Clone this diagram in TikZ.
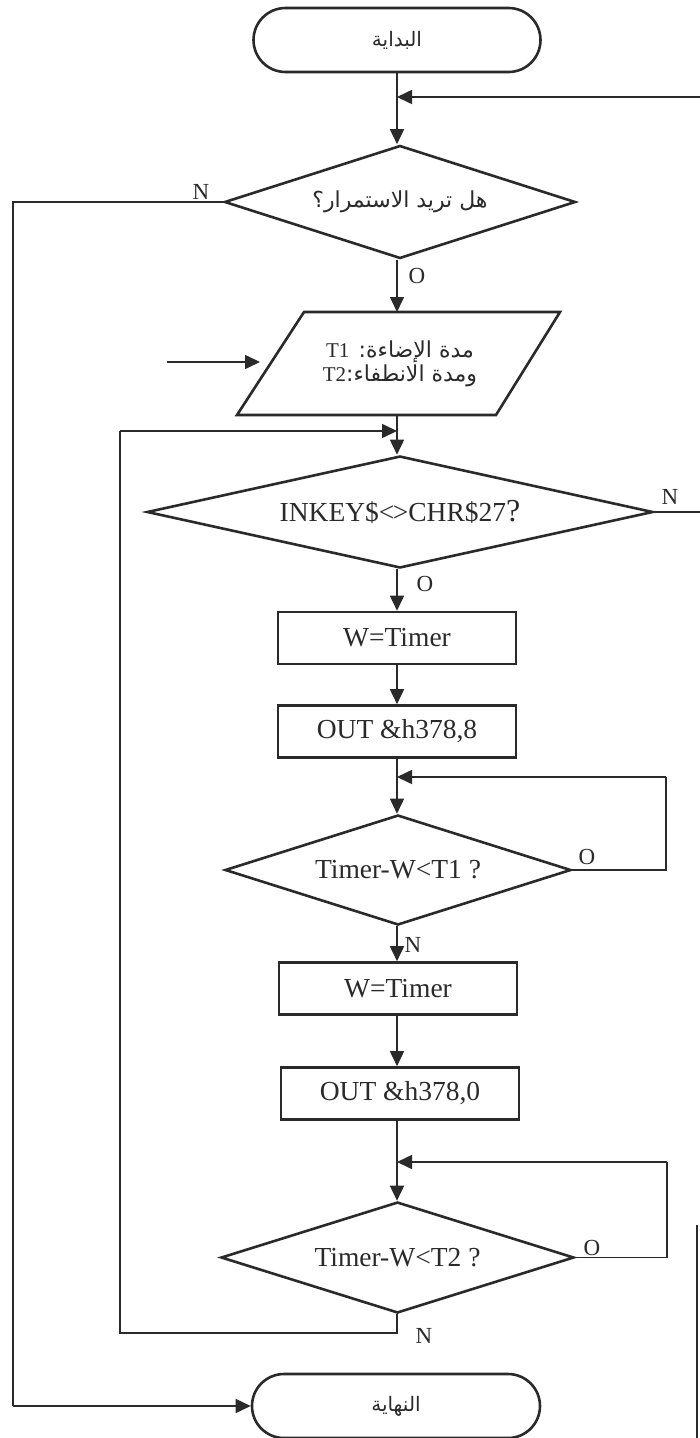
\documentclass[tikz,border=0pt]{standalone}
\usepackage{fontspec}
\setmainfont{Liberation Serif}
\newfontfamily\arabicfont[Script=Arabic]{DejaVu Sans}
\TeXXeTstate=1
\usetikzlibrary{shapes.geometric,shapes.misc,arrows.meta}
\definecolor{ink}{HTML}{2A2A2A}
\begin{document}
\begin{tikzpicture}[x=1pt,y=-1pt,
  shp/.style={draw=ink,line width=2.6pt,inner sep=0pt},
  term/.style={shp,rounded rectangle,minimum width=287pt,minimum height=64pt},
  dia/.style={shp,diamond},
  proc/.style={shp,rectangle,minimum width=238pt,minimum height=52pt},
  con/.style={draw=ink,line width=1.6pt},
  arr/.style={con,-{Triangle[length=15pt,width=14pt]}},
  lat/.style={font=\fontsize{27.5}{30}\selectfont,text=ink},
  lbl/.style={font=\fontsize{23}{26}\selectfont,inner sep=0pt,text=ink},
  ar/.style={font=\arabicfont\fontsize{20}{24}\selectfont,text=ink}
]
\useasboundingbox[fill=white] (0,0) rectangle (700,1438);

% nodes
\node[term,ar] (start) at (397,40) {\beginR البداية\endR};
\node[dia,ar,font=\arabicfont\fontsize{22}{26}\selectfont,aspect=3.1,minimum width=351pt,minimum height=113pt] (q1) at (400,202)
  {\beginR هل تريد الاستمرار؟\endR};
% input / output parallelogram
\coordinate (pa) at (304,312);
\coordinate (pb) at (560,312);
\coordinate (pc) at (496,415);
\coordinate (pd) at (237,415);
\draw[shp] (pa) -- (pb) -- (pc) -- (pd) -- cycle;
\node[align=center,inner sep=0pt,text=ink,
      font=\arabicfont\fontsize{22}{24}\selectfont] (io) at (400,364)
  {\beginR مدة الإضاءة: \beginL{\rmfamily\fontsize{21}{24}\selectfont T1}\endL\endR\\
   \beginR ومدة الانطفاء:\beginL{\rmfamily\fontsize{21}{24}\selectfont T2}\endL\endR};
\node[dia,lat,aspect=4.5,minimum width=506pt,minimum height=112pt] (q2) at (400,512)
  {INKEY\$\textless\kern-.06em\textgreater CHR\$27{\fontsize{32}{32}\selectfont ?}};
\node[proc,lat] (b1) at (397,638) {W=Timer};
\node[proc,lat] (b2) at (397,731.5) {OUT \&h378,8};
\node[dia,lat,aspect=3.15,minimum width=346pt,minimum height=110pt] (q3) at (398,870) {Timer-W\textless T1 ?};
\node[proc,lat] (b3) at (398,988.5) {W=Timer};
\node[proc,lat] (b4) at (400,1093.5) {OUT \&h378,0};
\node[dia,lat,aspect=3.18,minimum width=353pt,minimum height=111pt] (q4) at (397.5,1257.5) {Timer-W\textless T2 ?};
\node[term,ar,minimum width=288pt] (end) at (396,1406) {\beginR النهاية\endR};

% helper coordinates
\coordinate (j1) at (397,97);
\coordinate (r1) at (700,97);
\coordinate (l1) at (13,202);
\coordinate (l2) at (13,1406);
\coordinate (in1) at (167,362);
\coordinate (in2) at (260,362);
\coordinate (j2) at (397,431);
\coordinate (r2) at (700,512);
\coordinate (j3) at (397,777);
\coordinate (c3a) at (666,870);
\coordinate (c3b) at (666,777);
\coordinate (j4) at (397,1162);
\coordinate (c4a) at (667,1257.5);
\coordinate (c4b) at (667,1162);
\coordinate (d4) at (397,1333);
\coordinate (d5) at (120,1333);
\coordinate (d6) at (120,431);
\coordinate (rr1) at (697,1225);
\coordinate (rr2) at (697,1438);

% connectors
\draw[con] (start.south -| j1) -- (j1);
\draw[arr] (r1) -- (j1);
\draw[arr] (j1) -- (j1 |- q1.north);
\draw[con] (q1.west) -- (l1) -- (l2);
\draw[arr] (l2) -- (end.west);
\draw[arr] (j1 |- q1.south) -- (j1 |- pa);
\draw[arr] (in1) -- (in2);
\draw[con] (j1 |- pd) -- (j2);
\draw[arr] (j2) -- (j2 |- q2.north);
\draw[con] (q2.east) -- (r2);
\draw[arr] (j2 |- q2.south) -- (j2 |- b1.north);
\draw[arr] (b1) -- (b2);
\draw[con] (b2.south -| j3) -- (j3);
\draw[arr] (j3) -- (j3 |- q3.north);
\draw[con] (q3.east) -- (c3a) -- (c3b);
\draw[arr] (c3b) -- (j3);
\draw[arr] (j3 |- q3.south) -- (j3 |- b3.north);
\draw[arr] (b3.south -| j3) -- (j3 |- b4.north);
\draw[con] (b4.south -| j4) -- (j4);
\draw[arr] (j4) -- (j4 |- q4.north);
\draw[con] (q4.east) -- (c4a) -- (c4b);
\draw[arr] (c4b) -- (j4);
\draw[con] (j4 |- q4.south) -- (d4) -- (d5) -- (d6);
\draw[arr] (d6) -- (j2);
\draw[con] (rr1) -- (rr2);

% branch labels
\node[lbl] (n1) at (201,192) {N};
\node[lbl] (o1) at (417,276) {O};
\node[lbl] (n2) at (670,497) {N};
\node[lbl] (o2) at (425,584) {O};
\node[lbl] (o3) at (587,857) {O};
\node[lbl] (n3) at (413,945) {N};
\node[lbl] (o4) at (592,1248) {O};
\node[lbl] (n4) at (424,1336) {N};
\end{tikzpicture}
\end{document}
